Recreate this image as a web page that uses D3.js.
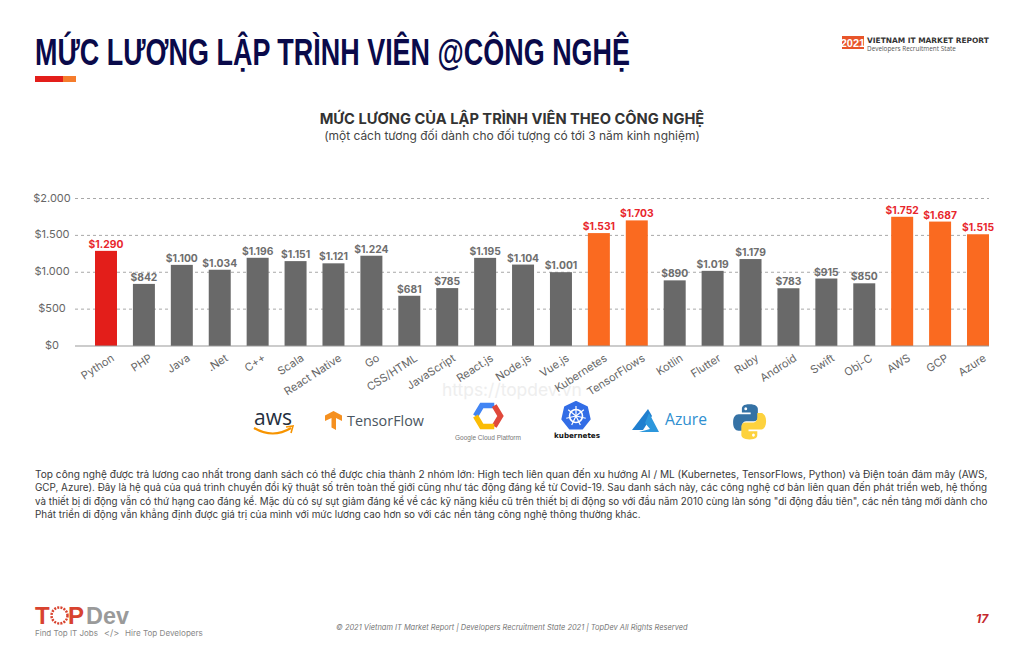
<!DOCTYPE html>
<html>
<head>
<meta charset="utf-8">
<script src="https://cdn.jsdelivr.net/npm/d3@7"></script>
<style>
  html, body { margin: 0; padding: 0; background: #fff; }
  svg { display: block; }
  text { font-family: Inter, "Liberation Sans", sans-serif; }
</style>
</head>
<body>
<svg id="page" width="1024" height="660"></svg>
<script>
// chart data
const categories = ["Python", "PHP", "Java", ".Net", "C++", "Scala", "React Native", "Go", "CSS/HTML", "JavaScript", "React.js", "Node.js", "Vue.js", "Kubernetes", "TensorFlows", "Kotlin", "Flutter", "Ruby", "Android", "Swift", "Obj-C", "AWS", "GCP", "Azure"];
const salaries = [1290, 842, 1100, 1034, 1196, 1151, 1121, 1224, 681, 785, 1195, 1104, 1001, 1531, 1703, 890, 1019, 1179, 783, 915, 850, 1752, 1687, 1515];
const highlightRed = ["Python"];
const highlightOrange = ["Kubernetes", "TensorFlows", "AWS", "GCP", "Azure"];
const yTicks = [0, 500, 1000, 1500, 2000];

const bodyLines = [
  "Top công nghệ được trả lương cao nhất trong danh sách có thể được chia thành 2 nhóm lớn: High tech liên quan đến xu hướng AI / ML (Kubernetes, TensorFlows, Python) và Điện toán đám mây (AWS,",
  "GCP, Azure). Đây là hệ quả của quá trình chuyển đổi kỹ thuật số trên toàn thế giới cũng như tác động đáng kể từ Covid-19. Sau danh sách này, các công nghệ cơ bản liên quan đến phát triển web, hệ thống",
  "và thiết bị di động vẫn có thứ hạng cao đáng kể. Mặc dù có sự sụt giảm đáng kể về các kỹ năng kiểu cũ trên thiết bị di động so với đầu năm 2010 cùng làn sóng \"di động đầu tiên\", các nền tảng mới dành cho",
  "Phát triển di động vẫn khẳng định được giá trị của mình với mức lương cao hơn so với các nền tảng công nghệ thông thường khác."
];
const bodyWidths = [953, 954, 954, 607];

const svg = d3.select("#page");
const money = d3.formatLocale({decimal: ",", thousands: ".", grouping: [3], currency: ["$", ""]}).format("$,");

function addText(parent, str, x, y, size, fill, opts = {}) {
  const t = parent.append("text")
    .attr("x", x).attr("y", y)
    .attr("font-size", size)
    .attr("fill", fill)
    .attr("text-anchor", opts.anchor || "start")
    .attr("font-weight", opts.weight || "normal")
    .text(str);
  if (opts.family) t.style("font-family", opts.family);
  if (opts.italic) t.attr("font-style", "italic");
  if (opts.fit) t.attr("font-size", size * opts.fit / t.node().getComputedTextLength());
  return t;
}

// header
addText(svg, "MỨC LƯƠNG LẬP TRÌNH VIÊN @CÔNG NGHỆ", 35, 65, 36, "#0a0a4a",
  {weight: "bold", family: "'Liberation Sans Narrow', 'Liberation Sans'"})
  .attr("textLength", 595).attr("lengthAdjust", "spacingAndGlyphs");
svg.append("rect").attr("x", 35).attr("y", 76).attr("width", 28).attr("height", 6).attr("fill", "#e31e1a");
svg.append("rect").attr("x", 63).attr("y", 76).attr("width", 13).attr("height", 6).attr("fill", "#f57c2c");

svg.append("rect").attr("x", 842).attr("y", 36).attr("width", 22).attr("height", 13).attr("fill", "#e8552a");
addText(svg, "2021", 853, 47, 11, "#fff", {anchor: "middle", weight: "bold", family: "'Liberation Sans Narrow', 'Liberation Sans'"});
addText(svg, "VIETNAM IT MARKET REPORT", 867, 43, 8.5, "#333", {weight: "bold", fit: 122, family: "'DejaVu Sans'"});
addText(svg, "Developers Recruitment State", 867, 50.5, 8, "#555", {fit: 89, family: "'Open Sans'"});

// chart titles
addText(svg, "MỨC LƯƠNG CỦA LẬP TRÌNH VIÊN THEO CÔNG NGHỆ", 512, 124, 14, "#333", {anchor: "middle", weight: "bold", fit: 385});
addText(svg, "(một cách tương đối dành cho đối tượng có tới 3 năm kinh nghiệm)", 512, 140, 13, "#444", {anchor: "middle", fit: 376});

// faint watermark behind the chart
addText(svg, "https://topdev.vn", 442, 396, 20, "#eeeeee", {fit: 140});

// scales
const x = d3.scaleBand().domain(categories).range([95, 989]).paddingInner(0.42).paddingOuter(0);
const y = d3.scaleLinear().domain([0, 2000]).range([346, 198.5]);

// gridlines
svg.append("g").selectAll("line")
  .data(yTicks.filter(d => d > 0))
  .join("line")
  .attr("x1", 75).attr("x2", 989)
  .attr("y1", d => y(d)).attr("y2", d => y(d))
  .attr("stroke", "#a8a8a8")
  .attr("stroke-dasharray", "3 3");

// y axis labels sit centred in the gutter
const yAxis = svg.append("g").attr("transform", "translate(52,0)")
  .call(d3.axisLeft(y).tickValues(yTicks).tickFormat(money).tickSize(0).tickPadding(0));
yAxis.select(".domain").remove();
yAxis.selectAll("text")
  .attr("text-anchor", "middle")
  .attr("y", -1)
  .attr("font-size", 11)
  .attr("fill", "#666")
  .style("font-family", "Inter");

function barColor(name) {
  if (highlightRed.includes(name)) return "#e31e1a";
  if (highlightOrange.includes(name)) return "#fa6a20";
  return "#696969";
}

// bars
svg.append("g").selectAll("rect")
  .data(categories)
  .join("rect")
  .attr("x", d => x(d))
  .attr("y", (d, i) => y(salaries[i]))
  .attr("width", x.bandwidth())
  .attr("height", (d, i) => y(0) - y(salaries[i]))
  .attr("fill", barColor);

// value labels
svg.append("g").selectAll("text")
  .data(categories)
  .join("text")
  .attr("x", d => x(d) + x.bandwidth() / 2)
  .attr("y", (d, i) => y(salaries[i]) - 3)
  .attr("text-anchor", "middle")
  .attr("font-size", 10.3)
  .attr("font-weight", "bold")
  .attr("fill", d => barColor(d) === "#696969" ? "#6e6e6e" : "#e8262c")
  .text((d, i) => money(salaries[i]));

// x axis
const xAxis = svg.append("g").attr("transform", "translate(0,346)")
  .call(d3.axisBottom(x).tickSize(0).tickPadding(0));
xAxis.select(".domain").attr("d", "M75,0H989").attr("stroke", "#999").attr("stroke-width", 1);
xAxis.selectAll("text")
  .attr("text-anchor", "end")
  .attr("dy", null)
  .attr("y", 0)
  .attr("transform", "translate(9,14) rotate(-33)")
  .attr("font-size", 11)
  .attr("fill", "#666")
  .style("font-family", "Inter");

// technology logos
const logos = svg.append("g");

function drawAws(g) {
  addText(g, "aws", 254, 425, 23, "#252f3e", {fit: 38, family: "'Open Sans'"});
  g.append("path").attr("d", "M254 428 Q273 439 291 428").attr("fill", "none").attr("stroke", "#f79400").attr("stroke-width", 2.2);
  g.append("path").attr("d", "M286 427 L293 426 L291 433").attr("fill", "none").attr("stroke", "#f79400").attr("stroke-width", 1.6);
}
function drawTensorFlow(g) {
  g.append("path")
    .attr("d", "M333.5 411 L342 415.5 V421 L336 418 V430 L331.5 427.5 V418 L325 421 V415.5 Z")
    .attr("fill", "#f59020");
  addText(g, "TensorFlow", 347, 426, 16, "#4a5560", {fit: 77, family: "'Open Sans'"});
}
function drawGcp(g) {
  const hex = d3.range(6).map(i => [488 + 12.5 * Math.cos(i * Math.PI / 3), 416 + 12 * Math.sin(i * Math.PI / 3)]);
  const seg = (a, b, c) => `M${hex[a]}L${hex[b]}L${hex[c]}`;
  g.append("path").attr("d", seg(3, 4, 5)).attr("stroke", "#4285f4").attr("stroke-width", 5.5).attr("fill", "none");
  g.append("path").attr("d", seg(5, 0, 1)).attr("stroke", "#e0483a").attr("stroke-width", 5.5).attr("fill", "none");
  g.append("path").attr("d", seg(1, 2, 3)).attr("stroke", "#fbbc05").attr("stroke-width", 5.5).attr("fill", "none");
  addText(g, "Google Cloud Platform", 455, 440, 7, "#777", {fit: 66, family: "'Liberation Sans'"});
}
function drawKubernetes(g) {
  const hept = d3.range(7).map(i => {
    const a = -Math.PI / 2 + i * 2 * Math.PI / 7;
    return [576 + 14 * Math.cos(a), 416 + 14 * Math.sin(a)];
  });
  g.append("path").attr("d", "M" + hept.join("L") + "Z").attr("fill", "#326de6").attr("stroke", "#326de6").attr("stroke-width", 2).attr("stroke-linejoin", "round");
  g.append("circle").attr("cx", 576).attr("cy", 416).attr("r", 6.5).attr("fill", "none").attr("stroke", "#fff").attr("stroke-width", 1.6);
  d3.range(7).forEach(i => {
    const a = -Math.PI / 2 + i * 2 * Math.PI / 7;
    g.append("line")
      .attr("x1", 576).attr("y1", 416)
      .attr("x2", 576 + 10 * Math.cos(a)).attr("y2", 416 + 10 * Math.sin(a))
      .attr("stroke", "#fff").attr("stroke-width", 1.2);
  });
  addText(g, "kubernetes", 554, 438, 8.5, "#111", {weight: "bold", fit: 46, family: "'DejaVu Sans'"});
}
function drawAzure(g) {
  g.append("path").attr("d", "M648 409 L632 430 H643 L652 416 Z").attr("fill", "#1f7fcf");
  g.append("path").attr("d", "M649 413 L659 432 H639 L650 429 L645 423 Z").attr("fill", "#2c97dc");
  addText(g, "Azure", 665, 425, 16, "#2f8fd0", {fit: 42, family: "'Open Sans'"});
}
function drawPython(g) {
  const snake = "M16 1 C10 1 9 3 9 5 V8 H17 V9.5 H6 C3 9.5 1 12 1 16.5 C1 21 3 23.5 6 23.5 H9 V19.5 C9 17 11 15.5 13 15.5 H20 C22 15.5 23.5 14 23.5 12 V5 C23.5 3 21.5 1 16 1Z";
  const p = g.append("g").attr("transform", "translate(732,403) scale(1.1,1.18)");
  p.append("path").attr("d", snake).attr("fill", "#3572a5");
  p.append("circle").attr("cx", 12.5).attr("cy", 4.8).attr("r", 1.3).attr("fill", "#fff");
  const q = p.append("g").attr("transform", "rotate(180 16 16)");
  q.append("path").attr("d", snake).attr("fill", "#fdd23e");
  q.append("circle").attr("cx", 12.5).attr("cy", 4.8).attr("r", 1.3).attr("fill", "#fff");
}
drawAws(logos);
drawTensorFlow(logos);
drawGcp(logos);
drawKubernetes(logos);
drawAzure(logos);
drawPython(logos);

// body paragraph, font size set so each line ends where the original does
bodyLines.forEach((line, i) => {
  addText(svg, line, 35, 478 + i * 13.3, 10.5, "#3a3a3a", {fit: bodyWidths[i]});
});

// footer
addText(svg, "T", 35, 624, 24, "#d8432f", {weight: "bold", family: "'Liberation Sans'"});
svg.append("circle").attr("cx", 59.5).attr("cy", 615.5).attr("r", 8).attr("fill", "none").attr("stroke", "#d8432f").attr("stroke-width", 2.5).attr("stroke-dasharray", "2 1.2");
addText(svg, "P", 68, 624, 24, "#d8432f", {weight: "bold", family: "'Liberation Sans'"});
addText(svg, "Dev", 86, 624, 24, "#9a9a9a", {weight: "bold", fit: 43, family: "'Liberation Sans'"});
addText(svg, "Find Top IT Jobs", 35, 636, 9, "#888", {fit: 63});
addText(svg, "</>", 104, 636, 9, "#888");
addText(svg, "Hire Top Developers", 125, 636, 9, "#888", {fit: 78});
addText(svg, "© 2021 Vietnam IT Market Report | Developers Recruitment State 2021 | TopDev All Rights Reserved", 336, 630, 8, "#777", {italic: true, fit: 352});
addText(svg, "17", 976, 623, 12, "#c4282d", {weight: "bold", italic: true});
</script>
</body>
</html>
